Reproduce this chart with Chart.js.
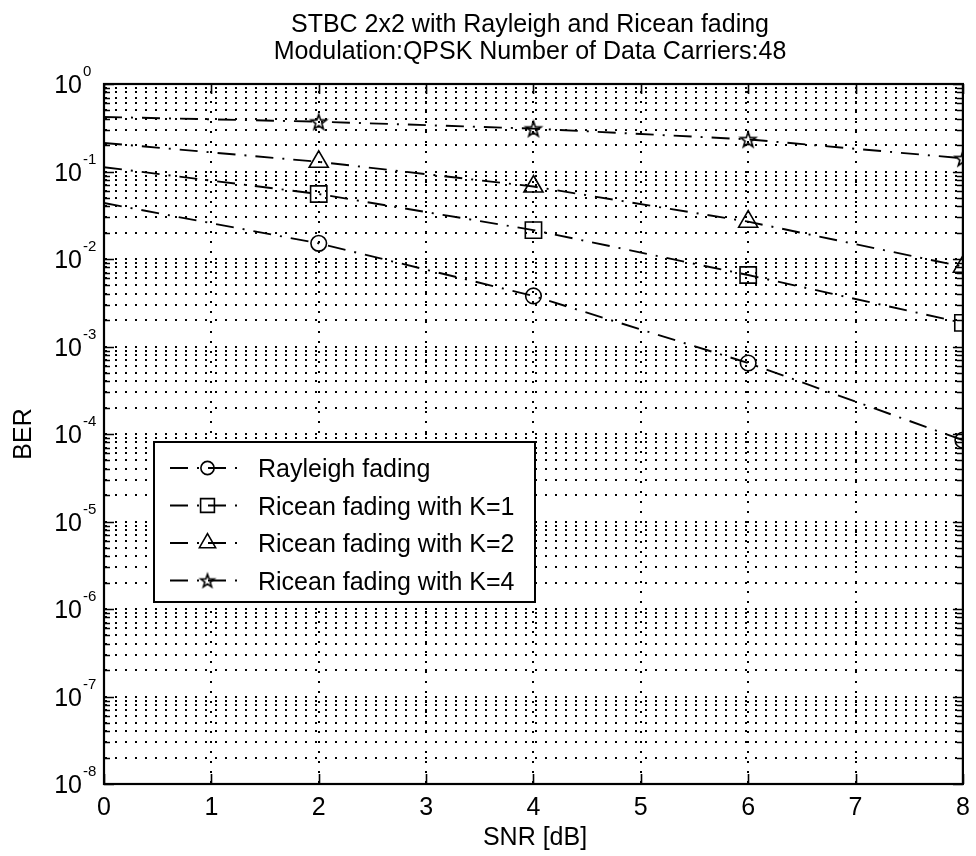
<!DOCTYPE html>
<html>
<head>
<meta charset="utf-8">
<script src="https://cdn.jsdelivr.net/npm/chart.js@4.4.1/dist/chart.umd.min.js"></script>
<style>
  html, body { margin: 0; padding: 0; background: #fff; }
  canvas { display: block; }
</style>
</head>
<body>
<canvas id="ber" width="976" height="856"></canvas>
<script>
// SNR points (dB) and simulated bit error rates
const snrDb = [0, 2, 4, 6, 8];
const berRayleigh = [0.0436, 0.0151, 0.00378, 0.000648, 0.000085];
const berRiceanK1 = [0.112, 0.0553, 0.0214, 0.00656, 0.00186];
const berRiceanK2 = [0.212, 0.129, 0.0674, 0.0267, 0.00817];
const berRiceanK4 = [0.42, 0.371, 0.309, 0.233, 0.1416];

const seriesNames = [
  'Rayleigh fading',
  'Ricean fading with K=1',
  'Ricean fading with K=2',
  'Ricean fading with K=4'
];

// axis ticks
const xTicks = [0, 1, 2, 3, 4, 5, 6, 7, 8];
const yDecades = [0, -1, -2, -3, -4, -5, -6, -7, -8];

const titleLines = [
  'STBC 2x2 with Rayleigh and Ricean fading',
  'Modulation:QPSK Number of Data Carriers:48'
];
const xLabel = 'SNR [dB]';
const yLabel = 'BER';

const FONT = "'Liberation Sans', Arial, Helvetica, sans-serif";

// outlined five-point star marker
function makeStar(r, lw) {
  const s = Math.ceil(2 * r + 2 * lw + 4);
  const c = document.createElement('canvas');
  c.width = s; c.height = s;
  const g = c.getContext('2d');
  g.translate(s / 2, s / 2 + r * 0.1);
  g.beginPath();
  for (let i = 0; i < 10; i++) {
    const rr = i % 2 ? r * 0.4 : r;
    const ang = -Math.PI / 2 + i * Math.PI / 5;
    g.lineTo(rr * Math.cos(ang), rr * Math.sin(ang));
  }
  g.closePath();
  g.lineWidth = lw;
  g.strokeStyle = '#000';
  g.stroke();
  return c;
}

const starMarker = makeStar(8, 1.6);
const starLegend = makeStar(7, 1.6);
const markers = [
  { style: 'circle', radius: 7.8 },
  { style: 'rect', radius: 11.5 },
  { style: 'triangle', radius: 11 },
  { style: starMarker, radius: 8 }
];
const seriesValues = [berRayleigh, berRiceanK1, berRiceanK2, berRiceanK4];
const lineDash = [18, 9, 2, 9];

const datasets = seriesValues.map((vals, i) => ({
  label: seriesNames[i],
  data: snrDb.map((s, j) => ({ x: s, y: vals[j] })),
  borderColor: '#000',
  borderWidth: 1.9,
  borderDash: lineDash,
  pointStyle: markers[i].style,
  pointRadius: c => (c.dataIndex === 0 ? 0 : markers[i].radius),
  pointBorderWidth: 1.6,
  pointBorderColor: '#000',
  pointBackgroundColor: 'rgba(0,0,0,0)',
  tension: 0,
  fill: false,
  clip: 0
}));

// log-scale grid positions: every decade plus 2..9 inside it
function logGridValues() {
  const out = [];
  for (const e of yDecades) {
    out.push({ v: Math.pow(10, e), major: true });
    if (e === 0) continue;
    for (let m = 2; m <= 9; m++) out.push({ v: m * Math.pow(10, e), major: false });
  }
  return out;
}

function drawMarker(ctx, style, r, cx, cy) {
  if (typeof style !== 'string') {
    ctx.drawImage(style, cx - style.width / 2, cy - style.height / 2);
    return;
  }
  ctx.beginPath();
  if (style === 'circle') {
    ctx.arc(cx, cy, r, 0, Math.PI * 2);
  } else if (style === 'rect') {
    const s = r * Math.SQRT1_2;
    ctx.rect(cx - s, cy - s, 2 * s, 2 * s);
  } else if (style === 'triangle') {
    ctx.moveTo(cx, cy - r);
    ctx.lineTo(cx + 0.866 * r, cy + r / 2);
    ctx.lineTo(cx - 0.866 * r, cy + r / 2);
    ctx.closePath();
  }
  ctx.stroke();
}

// dotted grid underneath the curves
const gridPlugin = {
  id: 'dottedGrid',
  beforeDatasetsDraw(chart) {
    const { ctx, chartArea: a, scales: { x, y } } = chart;
    ctx.save();
    ctx.strokeStyle = '#000';
    ctx.lineWidth = 2;
    ctx.setLineDash([2, 8]);
    ctx.beginPath();
    for (const g of logGridValues()) {
      const py = Math.round(y.getPixelForValue(g.v));
      if (py <= a.top + 1 || py >= a.bottom - 1) continue;
      ctx.moveTo(a.left + 1, py);
      ctx.lineTo(a.right, py);
    }
    ctx.stroke();
    ctx.beginPath();
    for (const t of xTicks) {
      const px = Math.round(x.getPixelForValue(t));
      if (px <= a.left + 1 || px >= a.right - 1) continue;
      ctx.moveTo(px, a.bottom - 1);
      ctx.lineTo(px, a.top);
    }
    ctx.stroke();
    ctx.restore();
  }
};

// box, ticks, labels, title and legend
const framePlugin = {
  id: 'axesFrame',
  afterDraw(chart) {
    const { ctx, chartArea: a, scales: { x, y } } = chart;
    ctx.save();
    ctx.setLineDash([]);
    ctx.strokeStyle = '#000';
    ctx.fillStyle = '#000';

    // tick marks pointing inward
    ctx.lineWidth = 1.6;
    ctx.beginPath();
    for (const t of xTicks) {
      const px = Math.round(x.getPixelForValue(t)) + 0.5;
      ctx.moveTo(px, a.bottom); ctx.lineTo(px, a.bottom - 10);
      ctx.moveTo(px, a.top); ctx.lineTo(px, a.top + 10);
    }
    for (const g of logGridValues()) {
      const py = Math.round(y.getPixelForValue(g.v)) + 0.5;
      const len = g.major ? 10 : 6;
      ctx.moveTo(a.left, py); ctx.lineTo(a.left + len, py);
      ctx.moveTo(a.right, py); ctx.lineTo(a.right - len, py);
    }
    ctx.stroke();

    // axes box
    ctx.lineWidth = 2.2;
    ctx.strokeRect(a.left, a.top, a.right - a.left, a.bottom - a.top);

    // y tick labels 10^e
    ctx.textBaseline = 'alphabetic';
    for (const e of yDecades) {
      const py = y.getPixelForValue(Math.pow(10, e));
      ctx.font = '25px ' + FONT;
      ctx.textAlign = 'right';
      ctx.fillText('10', 82, py + 9);
      ctx.font = '15px ' + FONT;
      ctx.textAlign = 'left';
      ctx.fillText(String(e), 83, py - 8);
    }

    // x tick labels
    ctx.font = '25px ' + FONT;
    ctx.textAlign = 'center';
    for (const t of xTicks) {
      ctx.fillText(String(t), x.getPixelForValue(t), 815);
    }

    // axis titles
    ctx.fillText(xLabel, 535, 845);
    ctx.save();
    ctx.translate(31, (a.top + a.bottom) / 2);
    ctx.rotate(-Math.PI / 2);
    ctx.textAlign = 'center';
    ctx.fillText(yLabel, 0, 0);
    ctx.restore();

    // title
    ctx.font = '25px ' + FONT;
    ctx.textAlign = 'center';
    ctx.fillText(titleLines[0], 530, 32);
    ctx.fillText(titleLines[1], 530, 59);

    // legend
    const lb = { left: 154, top: 442, right: 535, bottom: 602 };
    ctx.fillStyle = '#fff';
    ctx.fillRect(lb.left, lb.top, lb.right - lb.left, lb.bottom - lb.top);
    ctx.lineWidth = 2;
    ctx.strokeStyle = '#000';
    ctx.strokeRect(lb.left, lb.top, lb.right - lb.left, lb.bottom - lb.top);
    ctx.fillStyle = '#000';
    ctx.font = '25px ' + FONT;
    ctx.textAlign = 'left';
    chart.data.datasets.forEach((ds, i) => {
      const ry = 468 + i * 37.5;
      ctx.save();
      ctx.lineWidth = 1.9;
      ctx.setLineDash(lineDash);
      ctx.beginPath();
      ctx.moveTo(170, ry);
      ctx.lineTo(245, ry);
      ctx.stroke();
      ctx.restore();
      ctx.save();
      ctx.lineWidth = 1.6;
      ctx.setLineDash([]);
      const st = i === 3 ? starLegend : markers[i].style;
      drawMarker(ctx, st, markers[i].radius * 0.85, 207.5, ry);
      ctx.restore();
      ctx.fillText(ds.label, 258, ry + 9);
    });

    ctx.restore();
  }
};

new Chart(document.getElementById('ber'), {
  type: 'line',
  data: { datasets },
  options: {
    responsive: false,
    animation: false,
    events: [],
    layout: { padding: { left: 104, top: 84, right: 4, bottom: 72 } },
    plugins: {
      legend: { display: false },
      title: { display: false },
      tooltip: { enabled: false }
    },
    scales: {
      x: { type: 'linear', min: 0, max: 8, display: false },
      y: { type: 'logarithmic', min: 1e-8, max: 1, display: false }
    }
  },
  plugins: [gridPlugin, framePlugin]
});
</script>
</body>
</html>
